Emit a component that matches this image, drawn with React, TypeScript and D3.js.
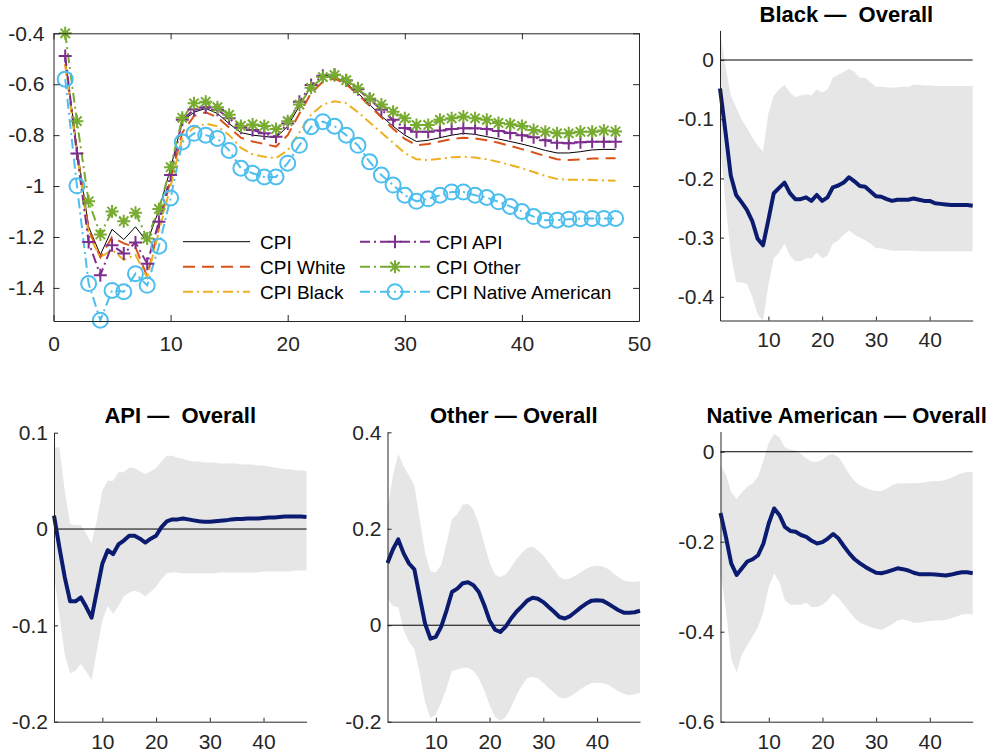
import React, { useEffect, useRef } from "react"
import * as d3 from "d3"

const horizons = d3.range(1, 49)

const mainXTicks = [0, 10, 20, 30, 40, 50]
const mainYTicks = [-1.4, -1.2, -1, -0.8, -0.6, -0.4]
const subXTicks = [10, 20, 30, 40]

// top-left panel: CPI responses
const cpiAll = [-0.50, -0.85, -1.16, -1.27, -1.17, -1.21, -1.16, -1.22, -1.095, -0.93, -0.745, -0.71, -0.695, -0.715, -0.755, -0.79, -0.80, -0.805, -0.81, -0.765, -0.685, -0.61, -0.575, -0.57, -0.595, -0.635, -0.68, -0.725, -0.765, -0.80, -0.825, -0.82, -0.81, -0.80, -0.793, -0.797, -0.806, -0.815, -0.825, -0.835, -0.847, -0.86, -0.87, -0.87, -0.865, -0.858, -0.856, -0.856]
const cpiWhite = [-0.52, -0.86, -1.17, -1.28, -1.20, -1.225, -1.24, -1.355, -1.16, -0.975, -0.79, -0.725, -0.71, -0.73, -0.77, -0.81, -0.825, -0.835, -0.845, -0.80, -0.715, -0.635, -0.59, -0.578, -0.60, -0.64, -0.685, -0.73, -0.775, -0.815, -0.84, -0.835, -0.825, -0.815, -0.81, -0.813, -0.82, -0.83, -0.842, -0.855, -0.868, -0.882, -0.895, -0.898, -0.895, -0.892, -0.891, -0.891]
const cpiBlack = [-0.52, -0.87, -1.19, -1.28, -1.25, -1.29, -1.27, -1.36, -1.18, -1.00, -0.81, -0.77, -0.755, -0.765, -0.80, -0.85, -0.875, -0.885, -0.89, -0.86, -0.79, -0.72, -0.68, -0.667, -0.675, -0.71, -0.75, -0.79, -0.83, -0.87, -0.895, -0.898, -0.893, -0.887, -0.885, -0.888, -0.895, -0.905, -0.917, -0.93, -0.945, -0.96, -0.972, -0.975, -0.975, -0.976, -0.978, -0.979]
const cpiApi = [-0.489, -0.872, -1.22, -1.35, -1.232, -1.265, -1.222, -1.305, -1.14, -0.957, -0.74, -0.699, -0.69, -0.70, -0.734, -0.771, -0.78, -0.793, -0.806, -0.754, -0.669, -0.603, -0.567, -0.563, -0.585, -0.62, -0.66, -0.70, -0.74, -0.772, -0.787, -0.787, -0.782, -0.776, -0.773, -0.773, -0.776, -0.784, -0.792, -0.80, -0.808, -0.82, -0.83, -0.832, -0.828, -0.826, -0.826, -0.826]
const cpiOther = [-0.40, -0.745, -1.06, -1.19, -1.10, -1.138, -1.105, -1.206, -1.09, -0.926, -0.732, -0.675, -0.669, -0.69, -0.72, -0.764, -0.758, -0.764, -0.776, -0.745, -0.68, -0.614, -0.572, -0.564, -0.584, -0.616, -0.656, -0.68, -0.708, -0.734, -0.76, -0.76, -0.74, -0.734, -0.727, -0.734, -0.74, -0.752, -0.757, -0.764, -0.78, -0.787, -0.793, -0.793, -0.787, -0.787, -0.782, -0.786]
const cpiNative = [-0.58, -0.999, -1.383, -1.527, -1.41, -1.415, -1.344, -1.39, -1.236, -1.047, -0.827, -0.793, -0.80, -0.813, -0.86, -0.93, -0.95, -0.964, -0.964, -0.91, -0.84, -0.767, -0.747, -0.765, -0.80, -0.84, -0.905, -0.957, -0.996, -1.036, -1.06, -1.05, -1.036, -1.023, -1.023, -1.036, -1.045, -1.062, -1.08, -1.10, -1.12, -1.134, -1.134, -1.13, -1.128, -1.127, -1.127, -1.127]

const seriesNames = ["CPI", "CPI White", "CPI Black", "CPI API", "CPI Other", "CPI Native American"]

// difference panels: point estimate and band
const blackIrf = [-0.048, -0.12, -0.195, -0.228, -0.24, -0.253, -0.272, -0.302, -0.313, -0.27, -0.225, -0.216, -0.207, -0.225, -0.235, -0.235, -0.232, -0.238, -0.228, -0.238, -0.232, -0.215, -0.212, -0.207, -0.198, -0.205, -0.213, -0.214, -0.222, -0.23, -0.231, -0.235, -0.238, -0.236, -0.236, -0.236, -0.234, -0.236, -0.238, -0.238, -0.242, -0.243, -0.244, -0.245, -0.245, -0.245, -0.245, -0.246]
const blackHi = [0.05, -0.01, -0.06, -0.08, -0.10, -0.115, -0.13, -0.145, -0.155, -0.09, -0.06, -0.05, -0.042, -0.055, -0.063, -0.06, -0.058, -0.06, -0.05, -0.055, -0.05, -0.03, -0.025, -0.02, -0.015, -0.02, -0.03, -0.03, -0.038, -0.045, -0.045, -0.046, -0.047, -0.046, -0.045, -0.045, -0.042, -0.042, -0.043, -0.043, -0.044, -0.044, -0.044, -0.044, -0.044, -0.044, -0.044, -0.044]
const blackLo = [-0.14, -0.24, -0.327, -0.375, -0.376, -0.378, -0.40, -0.43, -0.44, -0.38, -0.335, -0.325, -0.31, -0.33, -0.34, -0.34, -0.335, -0.335, -0.325, -0.335, -0.33, -0.31, -0.305, -0.295, -0.288, -0.295, -0.30, -0.305, -0.31, -0.318, -0.318, -0.32, -0.322, -0.322, -0.322, -0.322, -0.322, -0.323, -0.323, -0.323, -0.323, -0.323, -0.323, -0.323, -0.323, -0.323, -0.323, -0.323]

const apiIrf = [0.014, -0.019, -0.05, -0.075, -0.075, -0.071, -0.081, -0.092, -0.064, -0.036, -0.022, -0.026, -0.016, -0.012, -0.007, -0.007, -0.010, -0.014, -0.010, -0.007, 0.002, 0.008, 0.010, 0.010, 0.011, 0.010, 0.009, 0.008, 0.0075, 0.0075, 0.008, 0.0085, 0.009, 0.010, 0.0105, 0.0105, 0.011, 0.011, 0.011, 0.0115, 0.012, 0.012, 0.0125, 0.013, 0.013, 0.013, 0.013, 0.0125]
const apiHi = [0.085, 0.085, 0.04, 0.005, 0.004, 0.004, -0.005, -0.015, 0.01, 0.04, 0.05, 0.05, 0.059, 0.059, 0.064, 0.063, 0.06, 0.057, 0.06, 0.063, 0.07, 0.076, 0.076, 0.074, 0.073, 0.071, 0.07, 0.07, 0.069, 0.069, 0.069, 0.068, 0.068, 0.068, 0.068, 0.067, 0.067, 0.067, 0.066, 0.066, 0.065, 0.064, 0.063, 0.062, 0.062, 0.061, 0.061, 0.06]
const apiLo = [-0.045, -0.09, -0.13, -0.15, -0.147, -0.14, -0.148, -0.157, -0.125, -0.095, -0.08, -0.088, -0.08, -0.07, -0.066, -0.064, -0.066, -0.07, -0.065, -0.06, -0.052, -0.046, -0.045, -0.045, -0.046, -0.046, -0.046, -0.046, -0.046, -0.046, -0.046, -0.045, -0.045, -0.045, -0.045, -0.045, -0.045, -0.045, -0.045, -0.044, -0.044, -0.044, -0.044, -0.044, -0.044, -0.043, -0.043, -0.043]

const otherIrf = [0.129, 0.157, 0.178, 0.149, 0.128, 0.116, 0.059, 0.003, -0.028, -0.024, -0.003, 0.031, 0.069, 0.076, 0.087, 0.089, 0.083, 0.069, 0.042, 0.010, -0.009, -0.014, -0.003, 0.014, 0.028, 0.039, 0.051, 0.057, 0.055, 0.048, 0.038, 0.028, 0.017, 0.014, 0.019, 0.028, 0.037, 0.045, 0.051, 0.052, 0.051, 0.045, 0.038, 0.031, 0.026, 0.026, 0.027, 0.03]
const otherHi = [0.24, 0.31, 0.355, 0.33, 0.31, 0.29, 0.22, 0.15, 0.112, 0.11, 0.125, 0.17, 0.22, 0.23, 0.25, 0.252, 0.24, 0.21, 0.17, 0.13, 0.105, 0.1, 0.105, 0.12, 0.137, 0.15, 0.16, 0.163, 0.155, 0.145, 0.13, 0.115, 0.1, 0.095, 0.097, 0.103, 0.11, 0.117, 0.122, 0.124, 0.122, 0.117, 0.108, 0.1, 0.093, 0.09, 0.09, 0.091]
const otherLo = [0.055, 0.04, 0.038, -0.01, -0.035, -0.05, -0.1, -0.16, -0.193, -0.185, -0.16, -0.13, -0.095, -0.092, -0.088, -0.088, -0.095, -0.11, -0.135, -0.165, -0.19, -0.198, -0.19, -0.17, -0.145, -0.125, -0.11, -0.107, -0.11, -0.12, -0.13, -0.14, -0.15, -0.152, -0.148, -0.14, -0.132, -0.125, -0.12, -0.119, -0.12, -0.123, -0.13, -0.137, -0.142, -0.145, -0.143, -0.14]

const naIrf = [-0.136, -0.189, -0.248, -0.274, -0.259, -0.244, -0.239, -0.23, -0.204, -0.159, -0.126, -0.141, -0.167, -0.176, -0.178, -0.185, -0.189, -0.198, -0.204, -0.201, -0.193, -0.183, -0.193, -0.21, -0.226, -0.239, -0.248, -0.256, -0.263, -0.269, -0.27, -0.267, -0.263, -0.259, -0.261, -0.264, -0.269, -0.272, -0.272, -0.272, -0.273, -0.274, -0.275, -0.273, -0.27, -0.268, -0.268, -0.27]
const naHi = [-0.03, -0.05, -0.09, -0.105, -0.09, -0.078, -0.07, -0.055, -0.02, 0.02, 0.04, 0.032, 0.01, 0.005, 0.003, -0.005, -0.015, -0.022, -0.022, -0.018, -0.008, -0.005, -0.012, -0.03, -0.05, -0.065, -0.075, -0.08, -0.085, -0.087, -0.087, -0.082, -0.074, -0.07, -0.07, -0.07, -0.07, -0.07, -0.068, -0.066, -0.065, -0.065, -0.062, -0.058, -0.052, -0.048, -0.045, -0.045]
const naLo = [-0.27, -0.35, -0.46, -0.49, -0.45, -0.43, -0.41, -0.39, -0.355, -0.30, -0.27, -0.29, -0.33, -0.34, -0.34, -0.34, -0.335, -0.345, -0.345, -0.34, -0.33, -0.315, -0.325, -0.34, -0.355, -0.37, -0.38, -0.385, -0.39, -0.393, -0.396, -0.39, -0.383, -0.375, -0.373, -0.375, -0.38, -0.38, -0.378, -0.376, -0.375, -0.375, -0.374, -0.37, -0.366, -0.362, -0.36, -0.362]

const AXIS = "#262626"
const FONT = "'Liberation Sans', Arial, Helvetica, sans-serif"
const TICK_SIZE = 21

type Marker = "none" | "plus" | "star" | "circle"

const mainSeries = [
  { name: seriesNames[0], values: cpiAll, color: "#000000", width: 1, dash: null, marker: "none" as Marker },
  { name: seriesNames[1], values: cpiWhite, color: "#D95319", width: 2, dash: "12,7", marker: "none" as Marker },
  { name: seriesNames[2], values: cpiBlack, color: "#EDB120", width: 2, dash: "10,4,2,4", marker: "none" as Marker },
  { name: seriesNames[3], values: cpiApi, color: "#7E2F8E", width: 2, dash: "10,4,2,4", marker: "plus" as Marker },
  { name: seriesNames[4], values: cpiOther, color: "#77AC30", width: 2, dash: "10,4,2,4", marker: "star" as Marker },
  { name: seriesNames[5], values: cpiNative, color: "#4DBEEE", width: 2, dash: "10,4,2,4", marker: "circle" as Marker },
]

function drawMarker(g: any, px: number, py: number, kind: Marker, color: string) {
  const h = 6.5
  if (kind === "plus") {
    g.append("path").attr("d", `M${px - h},${py}H${px + h}M${px},${py - h}V${py + h}`)
      .attr("stroke", color).attr("stroke-width", 2).attr("fill", "none")
  } else if (kind === "star") {
    const d = h * 0.72
    g.append("path")
      .attr("d", `M${px - h},${py}H${px + h}M${px},${py - h}V${py + h}M${px - d},${py - d}L${px + d},${py + d}M${px - d},${py + d}L${px + d},${py - d}`)
      .attr("stroke", color).attr("stroke-width", 2).attr("fill", "none")
  } else if (kind === "circle") {
    g.append("circle").attr("cx", px).attr("cy", py).attr("r", 7.5)
      .attr("stroke", color).attr("stroke-width", 2).attr("fill", "none")
  }
}

function styleAxis(sel: any) {
  sel.select(".domain").attr("stroke", AXIS).attr("stroke-width", 1)
  sel.selectAll(".tick line").attr("stroke", AXIS).attr("stroke-width", 1)
  sel.selectAll(".tick text").attr("fill", AXIS).attr("font-size", TICK_SIZE).attr("font-family", FONT)
  sel.attr("font-family", FONT)
}

function drawMain(svg: any) {
  const m = { left: 53.5, right: 639, top: 33.3, bottom: 321 }
  const x = d3.scaleLinear().domain([0, 50]).range([m.left, m.right])
  const y = d3.scaleLinear().domain([-1.53, -0.4]).range([m.bottom, m.top])
  const g = svg.append("g")

  const line = d3.line<number>().x((d, i) => x(horizons[i])).y(d => y(d))

  mainSeries.forEach(s => {
    g.append("path")
      .attr("d", line(s.values))
      .attr("fill", "none")
      .attr("stroke", s.color)
      .attr("stroke-width", s.width)
      .attr("stroke-dasharray", s.dash)
  })
  mainSeries.forEach(s => {
    s.values.forEach((v, i) => drawMarker(g, x(horizons[i]), y(v), s.marker, s.color))
  })

  const fmt = (d: any) => String(d)
  const bottom = g.append("g").attr("transform", `translate(0,${m.bottom})`)
    .call(d3.axisBottom(x).tickValues(mainXTicks).tickSizeInner(-6).tickSizeOuter(0).tickPadding(15).tickFormat(fmt))
  styleAxis(bottom)
  const left = g.append("g").attr("transform", `translate(${m.left},0)`)
    .call(d3.axisLeft(y).tickValues(mainYTicks).tickSizeInner(-6).tickSizeOuter(0).tickPadding(9).tickFormat(fmt))
  styleAxis(left)
  const top = g.append("g").attr("transform", `translate(0,${m.top})`)
    .call(d3.axisTop(x).tickValues(mainXTicks).tickSizeInner(-6).tickSizeOuter(0).tickFormat(() => ""))
  styleAxis(top)
  const right = g.append("g").attr("transform", `translate(${m.right},0)`)
    .call(d3.axisRight(y).tickValues(mainYTicks).tickSizeInner(-6).tickSizeOuter(0).tickFormat(() => ""))
  styleAxis(right)

  // legend, two columns
  const cols = [{ x1: 183, x2: 250, tx: 260 }, { x1: 360, x2: 430, tx: 436 }]
  const rows = [241.7, 266.7, 291.7]
  mainSeries.forEach((s, i) => {
    const c = cols[Math.floor(i / 3)]
    const ry = rows[i % 3]
    g.append("line").attr("x1", c.x1).attr("x2", c.x2).attr("y1", ry).attr("y2", ry)
      .attr("stroke", s.color).attr("stroke-width", s.width).attr("stroke-dasharray", s.dash)
    drawMarker(g, (c.x1 + c.x2) / 2, ry, s.marker, s.color)
    g.append("text").attr("x", c.tx).attr("y", ry).attr("dy", "0.36em")
      .attr("font-family", FONT).attr("font-size", 19).attr("fill", "#000")
      .text(s.name)
  })
}

type Panel = {
  title: string
  left: number; right: number; top: number; bottom: number
  yDomain: [number, number]
  yTicks: number[]
  irf: number[]; hi: number[]; lo: number[]
  titleY: number
}

const panels: Panel[] = [
  { title: "Black —  Overall", left: 720, right: 972.7, top: 30.4, bottom: 320.5, yDomain: [-0.44, 0.05], yTicks: [-0.4, -0.3, -0.2, -0.1, 0], irf: blackIrf, hi: blackHi, lo: blackLo, titleY: 22 },
  { title: "API —  Overall", left: 54, right: 306.5, top: 432.7, bottom: 721.7, yDomain: [-0.2, 0.1], yTicks: [-0.2, -0.1, 0, 0.1], irf: apiIrf, hi: apiHi, lo: apiLo, titleY: 423 },
  { title: "Other — Overall", left: 387.5, right: 640, top: 432.3, bottom: 721.7, yDomain: [-0.2, 0.4], yTicks: [-0.2, 0, 0.2, 0.4], irf: otherIrf, hi: otherHi, lo: otherLo, titleY: 423 },
  { title: "Native American — Overall", left: 720.5, right: 972.7, top: 431.5, bottom: 721.7, yDomain: [-0.6, 0.045], yTicks: [-0.6, -0.4, -0.2, 0], irf: naIrf, hi: naHi, lo: naLo, titleY: 423 },
]

function drawPanel(svg: any, p: Panel) {
  const x = d3.scaleLinear().domain([1, 48]).range([p.left, p.right])
  const y = d3.scaleLinear().domain(p.yDomain).range([p.bottom, p.top])
  const g = svg.append("g")

  const area = d3.area<number>()
    .x((d, i) => x(horizons[i]))
    .y0((d, i) => y(p.lo[i]))
    .y1(d => y(d))
  g.append("path").attr("d", area(p.hi)).attr("fill", "#e6e6e6").attr("stroke", "none")

  g.append("line").attr("x1", x(1)).attr("x2", x(48)).attr("y1", y(0)).attr("y2", y(0))
    .attr("stroke", "#000").attr("stroke-width", 1)

  const line = d3.line<number>().x((d, i) => x(horizons[i])).y(d => y(d))
  g.append("path").attr("d", line(p.irf)).attr("fill", "none")
    .attr("stroke", "#0b1c70").attr("stroke-width", 4).attr("stroke-linejoin", "round")

  const fmt = (d: any) => String(d)
  const bottom = g.append("g").attr("transform", `translate(0,${p.bottom})`)
    .call(d3.axisBottom(x).tickValues(subXTicks).tickSizeInner(-4).tickSizeOuter(0).tickPadding(12).tickFormat(fmt))
  styleAxis(bottom)
  const left = g.append("g").attr("transform", `translate(${p.left},0)`)
    .call(d3.axisLeft(y).tickValues(p.yTicks).tickSizeInner(-4).tickSizeOuter(0).tickPadding(6).tickFormat(fmt))
  styleAxis(left)

  g.append("text")
    .attr("x", (p.left + p.right) / 2).attr("y", p.titleY)
    .attr("text-anchor", "middle")
    .attr("font-family", FONT).attr("font-size", 22).attr("font-weight", "bold")
    .attr("fill", "#000").style("white-space", "pre")
    .text(p.title)
}

export default function App() {
  const ref = useRef<SVGSVGElement>(null)

  useEffect(() => {
    const svg = d3.select(ref.current)
    svg.selectAll("*").remove()
    svg.append("rect").attr("width", 990).attr("height", 755).attr("fill", "#fff")
    drawMain(svg)
    panels.forEach(p => drawPanel(svg, p))
  }, [])

  return (
    <svg ref={ref} width={990} height={755}
      style={{ position: "absolute", left: 0, top: 0, display: "block" }} />
  )
}
